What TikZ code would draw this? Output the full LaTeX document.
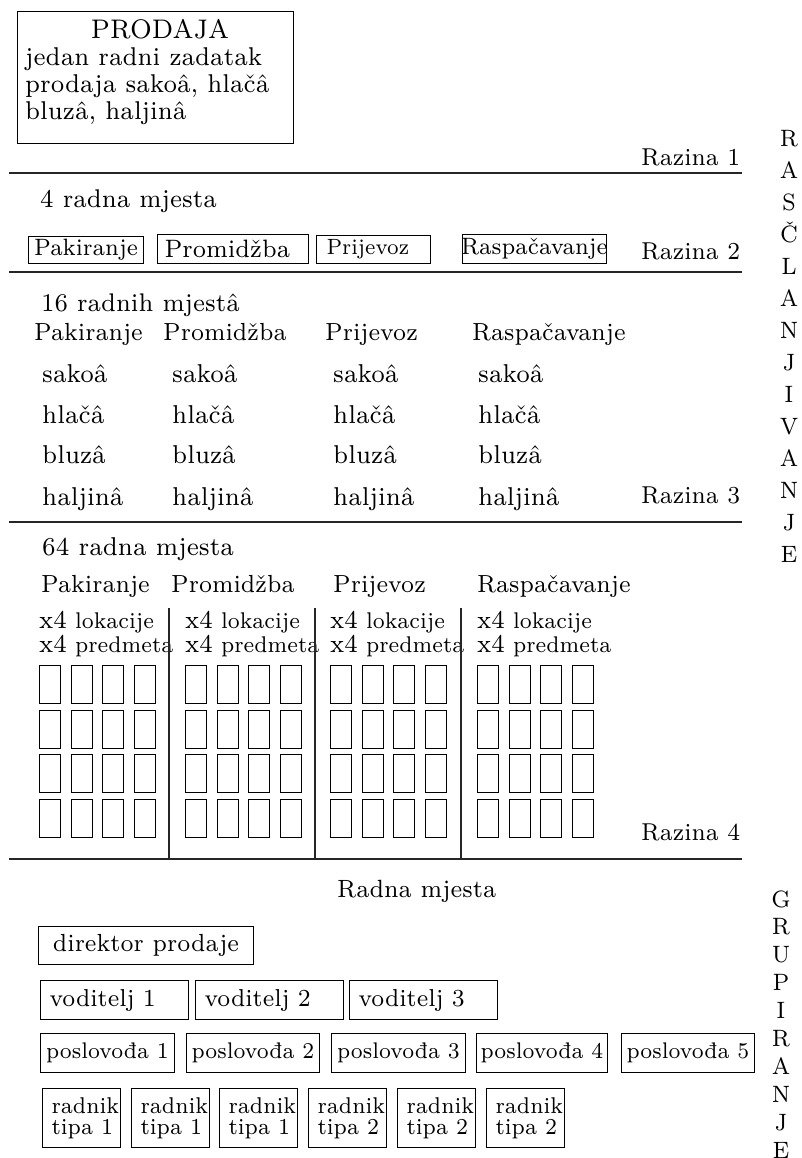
\documentclass[tikz,border=0pt]{standalone}
\usepackage{fontspec}
\setmainfont{lmroman7-regular.otf}[FakeStretch=0.926]
\newcommand\myfs[1]{\fontsize{\fpeval{#1*1.08}}{\fpeval{#1*1.08}}\selectfont}
\begin{document}
\begin{tikzpicture}[x=1bp,y=-1bp,
  txt/.style={inner sep=0,anchor=base west},
  hline/.style={line width=1.3bp,black!85},
  box/.style={draw,line width=1bp,inner sep=0,anchor=north west},
  lbox/.style={box,align=left},
  cell/.style={draw,line width=1bp,inner sep=0,anchor=north west,minimum width=21bp,minimum height=38bp},
  vlet/.style={inner sep=0,anchor=base,font=\myfs{22}},
]
\useasboundingbox (0,0) rectangle (802,1158);

% ---------- top box
\node[box,minimum width=276bp,minimum height=132bp] (topbox) at (17,11) {};
\node[txt,anchor=base,font=\myfs{25}] (t0) at (160,38) {PRODAJA};
\node[txt,font=\myfs{23.9}] (t1) at (25,65) {jedan radni zadatak};
\node[txt,font=\myfs{23.9}] (t2) at (25,92) {prodaja sakoâ, hlačâ};
\node[txt,font=\myfs{23.9}] (t3) at (25,119) {bluzâ, haljinâ};

% ---------- dividers
\draw[hline] (9,173) -- (742,173);
\draw[hline] (9,272) -- (742,272);
\draw[hline] (9,522) -- (742,522);
\draw[hline] (9,859) -- (742,859);

% ---------- level labels
\node[txt,font=\myfs{22.7}] (raz1) at (641,165) {Razina 1};
\node[txt,font=\myfs{22.7}] (raz2) at (641,259) {Razina 2};
\node[txt,font=\myfs{22.7}] (raz3) at (641,503) {Razina 3};
\node[txt,font=\myfs{22.7}] (raz4) at (641,840) {Razina 4};

% ---------- level 2
\node[txt,font=\myfs{23.8}] (l2t) at (40,207) {4 radna mjesta};
\node[box,minimum width=115bp,minimum height=27bp,font=\myfs{22}] (b2a) at (28,236) {Pakiranje};
\node[lbox,inner xsep=7bp,text width=137bp,minimum height=29bp,font=\myfs{23.4}] (b2b) at (157,234) {Promidžba};
\node[lbox,inner xsep=10bp,text width=94bp,minimum height=28bp,font=\myfs{20.5}] (b2c) at (316,235) {Prijevoz};
\node[box,inner xsep=-1.5bp,minimum width=139bp,minimum height=29bp,font=\myfs{22}] (b2d) at (462,234) {Raspačavanje};

% ---------- level 3
\node[txt,font=\myfs{23.7}] (l3t) at (41,311) {16 radnih mjestâ};
\foreach \h/\hx [count=\c] in {Pakiranje/34,Promidžba/163,Prijevoz/325,Raspačavanje/472}
  \node[txt,font=\myfs{23}] (h3-\c) at (\hx,340) {\h};
\foreach \w/\by [count=\r] in {sakoâ/382,hlačâ/423,bluzâ/463,haljinâ/505}
  \foreach \cx [count=\c] in {42,172,333,478}
    \node[txt,font=\myfs{24}] (i3-\r-\c) at (\cx,\by) {\w};

% ---------- level 4
\node[txt,font=\myfs{24}] (l4t) at (42,555) {64 radna mjesta};
\foreach \h/\hx [count=\c] in {Pakiranje/41,Promidžba/171,Prijevoz/333,Raspačavanje/477}
  \node[txt,font=\myfs{23}] (h4-\c) at (\hx,592) {\h};
\foreach \cx [count=\c] in {39,185,330,477} {
  \node[txt,font=\myfs{21.1}] (xa-\c) at (\cx,628) {{\myfs{23.8}x4} lokacije};
  \node[txt,font=\myfs{21.1}] (xb-\c) at (\cx,652) {{\myfs{23.8}x4} predmeta};
  \foreach \k in {0,...,3}
    \foreach \ry [count=\rr] in {665,709.7,754.4,799.1}
      \node[cell] (c\c-\k-\rr) at (\cx+31.67*\k,\ry) {};
}
\foreach \vx in {169,315,461}
  \draw[hline] (\vx,608) -- (\vx,859);

% ---------- grouping
\node[txt,font=\myfs{23.2}] (rm) at (337,897) {Radna mjesta};
\node[box,minimum width=215bp,minimum height=38bp,font=\myfs{23}] (dir) at (38,926) {direktor prodaje};
\foreach \bx/\n in {40/1,195/2,349/3}
  \node[lbox,inner xsep=9bp,text width=130bp,minimum height=39bp,font=\myfs{22.8}] (v\n) at (\bx,980) {voditelj \n};
\foreach \bx/\bw [count=\n] in {40/134,186/133,331/134,476/131,621/133}
  \node[box,minimum width=\bw bp,minimum height=39bp,font=\myfs{21}] (p\n) at (\bx,1033) {poslovođa \n};
\foreach \bx/\tp [count=\n] in {42/1,131/1,219/1,308/2,397/2,486/2}
  \node[lbox,inner xsep=9bp,minimum width=78bp,minimum height=59bp,font=\fontsize{\fpeval{21.2*1.08}}{21.5}\selectfont] (w\n) at (\bx,1088) {\makebox[60bp][l]{radnik}\\\makebox[60bp][l]{tipa \tp}};

% ---------- vertical words
\foreach \l [count=\i from 0] in {R,A,S,Č,L,A,N,J,I,V,A,N,J,E}
  \node[vlet] (ra\i) at (789,146+32*\i) {\l};
\foreach \l [count=\i from 0] in {G,R,U,P,I,R,A,N,J,E}
  \node[vlet] (gr\i) at (781,907+27.9*\i) {\l};
\end{tikzpicture}
\end{document}
